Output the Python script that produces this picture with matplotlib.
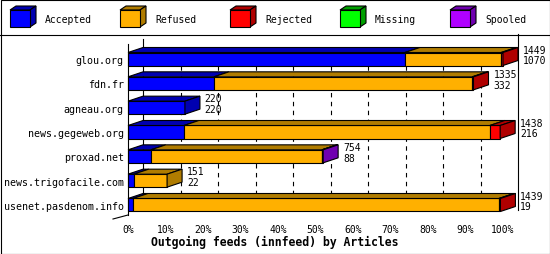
import matplotlib
matplotlib.use("Agg")
import matplotlib.pyplot as plt
from matplotlib.patches import Polygon, Rectangle
from matplotlib.lines import Line2D

# ---------------- data ----------------
hosts = ["glou.org", "fdn.fr", "agneau.org", "news.gegeweb.org", "proxad.net",
         "news.trigofacile.com", "usenet.pasdenom.info"]
offered = [1449, 1335, 220, 1438, 754, 151, 1439]
accepted = [1070, 332, 220, 216, 88, 22, 19]
refused = [372, 998, 0, 1182, 661, 129, 1414]
rejected = [7, 5, 0, 40, 2, 0, 6]
missing = [0, 0, 0, 0, 0, 0, 0]
spooled = [0, 0, 0, 0, 3, 0, 0]
series_names = ["Accepted", "Refused", "Rejected", "Missing", "Spooled"]
xticks = [0, 10, 20, 30, 40, 50, 60, 70, 80, 90, 100]
xlabel = "Outgoing feeds (innfeed) by Articles"

# ---------------- style ----------------
front_cols = ["#0000ff", "#ffb000", "#ff0000", "#00ff00", "#b000ff"]
dark_cols = ["#0000b0", "#b07c00", "#b00000", "#00a000", "#7000b0"]
MONO = "DejaVu Sans Mono"

W, H = 550, 255
fig = plt.figure(figsize=(W / 100, H / 100), dpi=100)
fig.patch.set_facecolor("white")

# axes: 0% at px 128, 100% at px 503, front plane y from 45 to 216
x0, x1 = 128, 503
ytop, ybot = 45, 216
ax = fig.add_axes([x0 / W, (H - ybot) / H, (x1 - x0) / W, (ybot - ytop) / H])
n = len(hosts)
pxrow = 24.33
ylim_top = -(60 - ytop) / pxrow
ylim_bot = (n - 1) + (ybot - 206) / pxrow
ax.set_xlim(0, 100)
ax.set_ylim(ylim_bot, ylim_top)
ax.set_facecolor("none")
for s in ax.spines.values():
    s.set_visible(False)

DX = 15 / 3.75          # depth in data-x (percent)
DY = 5 / pxrow          # depth in data-y (rows)
h = 13 / pxrow          # bar front height
lw = 0.8

# back wall & dashed grid
y_back_bot = ylim_bot - DY
y_grid_top = -h / 2 - DY
for t in xticks[1:-1]:
    ax.add_line(Line2D([t + DX, t + DX], [y_grid_top, y_back_bot], color="black",
                       lw=lw, ls=(0, (4, 4)), zorder=1, clip_on=False))
ax.add_line(Line2D([DX, DX], [ylim_top - 5 / pxrow, y_back_bot], color="black", lw=lw,
                   zorder=1, clip_on=False))
ax.add_line(Line2D([100 + DX, 100 + DX], [ylim_top - 10 / pxrow, y_back_bot],
                   color="black", lw=lw, zorder=1, clip_on=False))
# front axis
ax.add_line(Line2D([0, 0], [ylim_top, ylim_bot], color="black", lw=lw, zorder=5,
                   clip_on=False))
ax.add_line(Line2D([0, -DX], [ylim_bot, ylim_bot + 4 / pxrow], color="black", lw=lw,
                   zorder=5, clip_on=False))

vmax = max(offered)
series = [accepted, refused, rejected, missing, spooled]
for i in range(n):
    left = 0.0
    last = None
    for k, ser in enumerate(series):
        w = ser[i] / vmax * 100
        if w <= 0:
            continue
        ax.barh(i, w, left=left, height=h, color=front_cols[k], edgecolor="black",
                linewidth=lw, zorder=3, clip_on=False)
        yt = i - h / 2
        ax.add_patch(Polygon([(left, yt), (left + DX, yt - DY), (left + w + DX, yt - DY),
                              (left + w, yt)], closed=True, facecolor=dark_cols[k],
                             edgecolor="black", lw=lw, zorder=3, clip_on=False))
        left += w
        last = k
    yt, yb = i - h / 2, i + h / 2
    ax.add_patch(Polygon([(left, yt), (left + DX, yt - DY), (left + DX, yb - DY),
                          (left, yb)], closed=True, facecolor=dark_cols[last],
                         edgecolor="black", lw=lw, zorder=3, clip_on=False))
    ax.text(left + DX + 1.3, i - 0.39, str(offered[i]), fontsize=7, family=MONO,
            va="center", ha="left", clip_on=False)
    ax.text(left + DX + 1.3, i + 0.06, str(accepted[i]), fontsize=7, family=MONO,
            va="center", ha="left", clip_on=False)

ax.set_yticks(range(n))
ax.set_yticklabels(hosts, family=MONO, fontsize=7.2)
ax.set_xticks(xticks)
ax.set_xticklabels([f"{t}%" for t in xticks], family=MONO, fontsize=7)
ax.tick_params(axis="y", length=0, pad=3)
ax.tick_params(axis="x", length=0, pad=6.5)

fig.text(275 / W, 1 - 242 / H, xlabel, family=MONO, fontsize=8.3, fontweight="bold",
         ha="center", va="center")

# legend (figure pixel coordinates)
leg_x = [10, 120, 230, 340, 450]
for k, name in enumerate(series_names):
    lx = leg_x[k]
    fy = H - 28  # bottom of front face (mpl coords)
    fw, fh, ddx, ddy = 20, 17, 6, 4
    fig.patches.append(Polygon([(lx, fy + fh), (lx + ddx, fy + fh + ddy),
                                (lx + fw + ddx, fy + fh + ddy), (lx + fw, fy + fh)],
                               closed=True, facecolor=dark_cols[k], edgecolor="black",
                               lw=lw, transform=None))
    fig.patches.append(Polygon([(lx + fw, fy), (lx + fw, fy + fh),
                                (lx + fw + ddx, fy + fh + ddy), (lx + fw + ddx, fy + ddy)],
                               closed=True, facecolor=dark_cols[k], edgecolor="black",
                               lw=lw, transform=None))
    fig.patches.append(Rectangle((lx, fy), fw, fh, facecolor=front_cols[k],
                                 edgecolor="black", lw=lw, transform=None))
    fig.text((lx + 35) / W, 1 - 20 / H, name, family=MONO, fontsize=7.0,
             ha="left", va="center")

# separator & border
fig.add_artist(Line2D([0, 1], [1 - 35.5 / H, 1 - 35.5 / H], color="black", lw=lw,
                      transform=fig.transFigure))
fig.add_artist(Rectangle((0.5, 0.5), W - 1, H - 1, fill=False, edgecolor="black",
                         lw=lw, transform=None))

fig.savefig("out.png", dpi=100)
